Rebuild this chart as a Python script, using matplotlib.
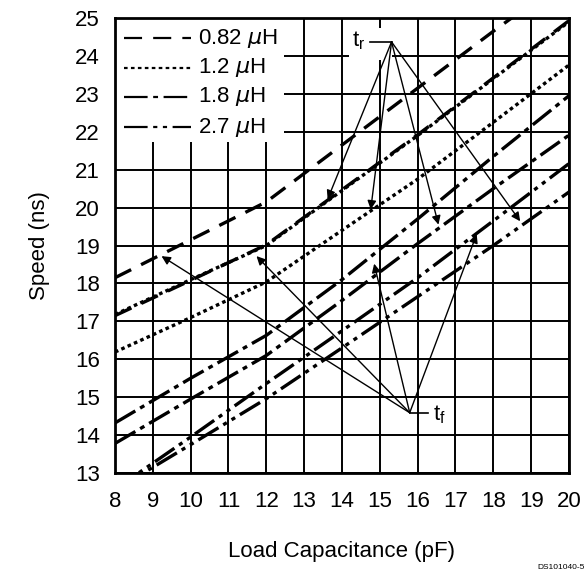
import matplotlib
matplotlib.use("Agg")
import matplotlib.pyplot as plt
from matplotlib.patches import Rectangle


# =========================================
# DATA
# =========================================

cap_pf = [8, 10, 12, 14, 16, 18, 20]

# t_f curves
tf_082 = [18.15, 19.15, 20.15, 21.65, 23.15, 24.65, 26.1]
tf_12 = [17.18, 18.1, 19.0, 20.45, 21.9, 23.4, 24.9]
tf_18 = [14.32, 15.5, 16.63, 18.1, 19.7, 21.35, 22.95]
tf_27 = [12.57, 13.95, 15.36, 16.75, 18.15, 19.65, 21.16]

# t_r curves
tr_082 = [17.15, 18.08, 19.02, 20.47, 21.92, 23.42, 24.93]
tr_12 = [16.19, 17.1, 18.04, 19.4, 20.75, 22.25, 23.76]
tr_18 = [13.78, 14.95, 16.1, 17.55, 19.05, 20.5, 21.91]
tr_27 = [12.55, 13.75, 14.96, 16.3, 17.65, 19.0, 20.41]

legend_labels = [
    "0.82 $\\mu$H",
    "1.2 $\\mu$H",
    "1.8 $\\mu$H",
    "2.7 $\\mu$H"
]

x_ticks = list(range(8, 21))
y_ticks = list(range(13, 26))

# arrow targets
tr_origin = (15.31, 24.37)
tr_tips_x = [13.62, 14.76, 16.55, 18.71]
tr_tips_y = [20.22, 19.95, 19.55, 19.64]

tf_origin = (15.79, 14.59)
tf_tips_x = [9.23, 11.74, 14.85, 17.56]
tf_tips_y = [18.72, 18.72, 18.52, 19.3]


# =========================================
# STYLES
# =========================================

plt.rcParams["font.family"] = ["Liberation Sans", "DejaVu Sans"]
plt.rcParams["mathtext.fontset"] = "dejavusans"
plt.rcParams["lines.scale_dashes"] = False

FS = 16

dash_082 = (0, (13, 8))
dash_12 = (0, (2.6, 2.4))
dash_18 = (0, (17, 4, 3.5, 4))
dash_27 = (0, (17, 4, 3, 4, 3, 4))

styles = [dash_082, dash_12, dash_18, dash_27]

LW = 2.4

fig = plt.figure(
    figsize=(5.87, 5.73),
    dpi=100
)

ax = fig.add_axes(
    [0.1959, 0.1745, 0.7734, 0.7941]
)

ax.set_xlim(8, 20)
ax.set_ylim(13, 25)

ax.set_xticks(x_ticks)
ax.set_yticks(y_ticks)

ax.tick_params(
    length=0,
    labelsize=FS
)
ax.tick_params(axis="x", pad=13)
ax.tick_params(axis="y", pad=11)

ax.set_axisbelow(True)
ax.grid(
    True,
    color="black",
    linewidth=1.4
)

for spine in ax.spines.values():
    spine.set_linewidth(2.0)
    spine.set_zorder(6)

# =========================================
# CURVES
# =========================================

curves = [
    (tf_082, dash_082),
    (tr_082, dash_082),
    (tf_12, dash_12),
    (tr_12, dash_12),
    (tf_18, dash_18),
    (tr_18, dash_18),
    (tf_27, dash_27),
    (tr_27, dash_27)
]

for values, style in curves:

    ax.plot(
        cap_pf,
        values,
        color="black",
        linewidth=LW,
        linestyle=style,
        dash_capstyle="butt",
        zorder=3
    )

# =========================================
# LEGEND (drawn by hand as in the scan)
# =========================================

ax.add_patch(
    Rectangle(
        (8, 21.72),
        4.48,
        3.28,
        facecolor="white",
        edgecolor="none",
        zorder=1.5
    )
)

legend_y = [24.46, 23.69, 22.92, 22.12]

for label, style, ly in zip(legend_labels, styles, legend_y):

    ax.plot(
        [8.23, 10.0],
        [ly, ly],
        color="black",
        linewidth=1.6,
        linestyle=style,
        dash_capstyle="butt",
        zorder=4
    )

    ax.text(
        10.2,
        ly,
        label,
        fontsize=FS,
        ha="left",
        va="center",
        zorder=4
    )

# =========================================
# t_r / t_f ANNOTATIONS
# =========================================

ax.add_patch(
    Rectangle(
        (14.18, 24.0 - 0.12),
        1.13,
        0.85,
        facecolor="white",
        edgecolor="none",
        zorder=1.5
    )
)

ax.plot(
    [14.73, tr_origin[0]],
    [tr_origin[1], tr_origin[1]],
    color="black",
    linewidth=1.2,
    zorder=4
)

ax.text(
    14.45,
    tr_origin[1] + 0.02,
    "t$_\\mathregular{r}$",
    fontsize=FS,
    ha="center",
    va="center",
    zorder=4
)

ax.plot(
    [tf_origin[0], 16.27],
    [tf_origin[1], tf_origin[1]],
    color="black",
    linewidth=1.2,
    zorder=4
)

ax.text(
    16.58,
    tf_origin[1] - 0.05,
    "t$_\\mathregular{f}$",
    fontsize=FS,
    ha="center",
    va="center",
    zorder=4
)

arrow_props = dict(
    arrowstyle="-|>",
    color="black",
    linewidth=1.0,
    mutation_scale=13,
    shrinkA=0,
    shrinkB=0
)

for tx, ty in zip(tr_tips_x, tr_tips_y):

    ax.annotate(
        "",
        xy=(tx, ty),
        xytext=tr_origin,
        arrowprops=arrow_props,
        zorder=5
    )

for tx, ty in zip(tf_tips_x, tf_tips_y):

    ax.annotate(
        "",
        xy=(tx, ty),
        xytext=tf_origin,
        arrowprops=arrow_props,
        zorder=5
    )

# =========================================
# LABELS
# =========================================

ax.set_xlabel(
    "Load Capacitance (pF)",
    fontsize=FS,
    labelpad=21
)

ax.set_ylabel(
    "Speed (ns)",
    fontsize=FS,
    labelpad=18
)

fig.text(
    0.997,
    0.003,
    "DS101040-5",
    fontsize=6,
    ha="right",
    va="bottom"
)

fig.savefig(
    "out.png",
    dpi=100
)

plt.close(fig)
